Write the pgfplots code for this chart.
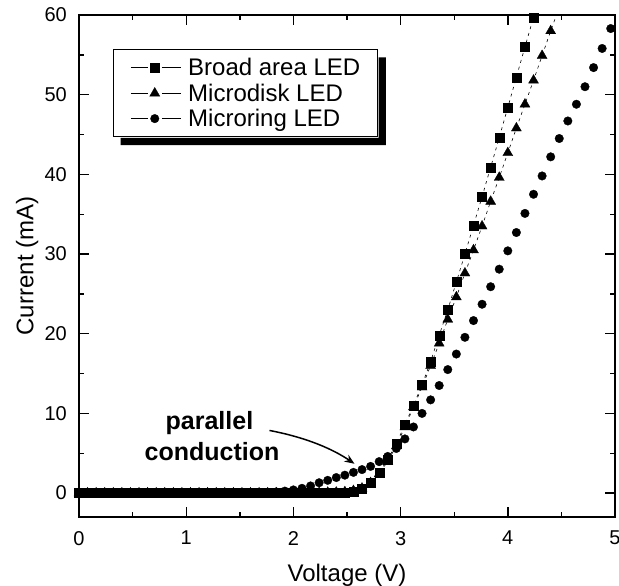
\documentclass[border=0pt]{standalone}
\usepackage{pgfplots}
\pgfplotsset{compat=1.18}
\usepackage{pgfplotstable}
\usepackage{fontspec}
\setmainfont{Liberation Sans}
\usetikzlibrary{arrows.meta}

\pgfplotstableread{
x y
0.00 0
0.08 0
0.16 0
0.24 0
0.32 0
0.40 0
0.48 0
0.56 0
0.64 0
0.72 0
0.80 0
0.88 0
0.96 0
1.04 0
1.12 0
1.20 0
1.28 0
1.36 0
1.44 0
1.52 0
1.60 0
1.68 0
1.76 0
1.84 0
1.92 0
2.00 0
2.08 0
2.16 0
2.24 0
2.32 0
2.40 0.05
2.48 0.1
2.56 0.2
2.64 0.5
2.72 1.3
2.80 2.6
2.88 4.2
2.96 6.2
3.04 8.6
3.12 11.0
3.20 13.6
3.28 16.5
3.36 19.8
3.44 23.0
3.52 26.5
3.60 30.0
3.68 33.6
3.76 37.2
3.84 40.9
3.92 44.6
4.00 48.4
4.08 52.2
4.16 56.0
4.24 59.7
4.32 63.5
}\broad

\pgfplotstableread{
x y
0.00 0
0.08 0
0.16 0
0.24 0
0.32 0
0.40 0
0.48 0
0.56 0
0.64 0
0.72 0
0.80 0
0.88 0
0.96 0
1.04 0
1.12 0
1.20 0
1.28 0
1.36 0
1.44 0
1.52 0
1.60 0
1.68 0
1.76 0
1.84 0
1.92 0
2.00 0
2.08 0
2.16 0
2.24 0.05
2.32 0.08
2.40 0.1
2.48 0.15
2.56 0.3
2.64 0.6
2.72 1.3
2.80 2.4
2.88 4.0
2.96 5.9
3.04 8.3
3.12 10.8
3.20 13.3
3.28 16.0
3.36 18.8
3.44 21.8
3.52 24.6
3.60 27.6
3.68 30.5
3.76 33.5
3.84 36.6
3.92 39.6
4.00 42.7
4.08 45.8
4.16 48.8
4.24 51.8
4.32 54.9
4.40 58.0
4.48 61.0
4.56 64.0
}\disk

\pgfplotstableread{
x y
0.00 0
0.08 0
0.16 0
0.24 0
0.32 0
0.40 0
0.48 0
0.56 0
0.64 0
0.72 0
0.80 0
0.88 0
0.96 0
1.04 0
1.12 0
1.20 0
1.28 0
1.36 0
1.44 0
1.52 0
1.60 0.03
1.68 0.05
1.76 0.1
1.84 0.15
1.92 0.25
2.00 0.4
2.08 0.6
2.16 0.9
2.24 1.3
2.32 1.6
2.40 1.95
2.48 2.25
2.56 2.6
2.64 2.95
2.72 3.35
2.80 3.95
2.88 4.6
2.96 5.6
3.04 6.8
3.12 8.3
3.20 10.0
3.28 11.7
3.36 13.5
3.44 15.5
3.52 17.45
3.60 19.55
3.68 21.65
3.76 23.7
3.84 25.9
3.92 28.1
4.00 30.4
4.08 32.7
4.16 35.1
4.24 37.5
4.32 39.8
4.40 42.2
4.48 44.5
4.56 46.7
4.64 48.8
4.72 51.0
4.80 53.4
4.88 55.8
4.96 58.3
}\ring

\begin{document}
\begin{tikzpicture}
\begin{axis}[
  name=main,
  scale only axis, width=536pt, height=502pt,
  xmin=0, xmax=5, ymin=-3, ymax=60,
  xtick={0,1,2,3,4,5}, ytick={0,10,20,30,40,50,60},
  minor x tick num=1, minor y tick num=1,
  tick align=inside,
  major tick length=10pt, minor tick length=5pt,
  every tick/.style={black, line width=1.4pt},
  axis line style={line width=1.6pt},
  /pgf/number format/assume math mode=true,
  tick label style={font=\fontsize{20}{24}\selectfont},
  xticklabel style={inner sep=0pt, anchor=north, yshift=-14pt},
  yticklabel style={inner sep=0pt, anchor=east, xshift=-12pt},
  every axis x label/.style={at={(axis description cs:0.5,-0.1275)}, anchor=base, font=\fontsize{24}{28}\selectfont},
  every axis y label/.style={at={(axis description cs:-0.085,0.5)}, anchor=base, rotate=90, font=\fontsize{24}{28}\selectfont},
  xlabel={Voltage (V)}, ylabel={Current (mA)},
  legend cell align=left,
  legend style={
    name=leg,
    at={(axis description cs:0.0629,0.9317)}, anchor=north west,
    draw=black, line width=1.2pt, fill=white,
    inner xsep=17pt, inner ysep=7.5pt,
    row sep=4.5pt, column sep=7pt,
    font=\fontsize{24}{28}\selectfont,
    nodes={inner xsep=0pt, inner ysep=1pt},
  },
  legend image code/.code={
    \draw[solid, draw=black, line width=0.9pt] (0pt,0pt) -- (17pt,0pt);
    \draw[solid, draw=black, line width=0.9pt] (31pt,0pt) -- (50pt,0pt);
    \draw[solid, line width=0.4pt] plot coordinates {(24pt,0pt)};
  },
]
\addplot[black, line width=0.6pt, dash pattern=on 3pt off 4pt, mark=square*, mark size=4.5pt,
  mark options={solid, fill=black, line width=0.3pt}] table {\broad};
\addlegendentry{Broad area LED}
\addplot[black, line width=0.6pt, dash pattern=on 3pt off 4pt, mark=triangle*, mark size=5.8pt,
  mark options={solid, fill=black, line width=0.3pt}] table {\disk};
\addlegendentry{Microdisk LED}
\addplot[black, only marks, mark=*, mark size=4.3pt,
  mark options={solid, fill=black, line width=0.3pt}] table {\ring};
\addlegendentry{Microring LED}

\node[anchor=base, font=\bfseries\fontsize{25}{30}\selectfont, inner sep=0pt] at (axis cs:1.217,7.93) {parallel};
\node[anchor=base, font=\bfseries\fontsize{25}{30}\selectfont, inner sep=0pt] at (axis cs:1.241,4.10) {conduction};
\draw[line width=1.5pt, -{Stealth[length=10pt,width=8pt]}] (axis cs:1.777,7.86) .. controls (axis cs:2.127,6.96) and (axis cs:2.37,5.5) .. (axis cs:2.57,3.68);
\end{axis}
\fill[black] ([shift={(0.6pt,-8pt)}]leg.north east) -- ([shift={(8pt,-8pt)}]leg.north east)
  -- ([shift={(8pt,-8pt)}]leg.south east) -- ([shift={(8pt,-8pt)}]leg.south west)
  -- ([shift={(8pt,-0.6pt)}]leg.south west) -- ([shift={(0.6pt,-0.6pt)}]leg.south east) -- cycle;
\pgfresetboundingbox
\useasboundingbox ([shift={(-79pt,-68pt)}]main.south west) rectangle ([shift={(4pt,15pt)}]main.north east);
\end{tikzpicture}
\end{document}
